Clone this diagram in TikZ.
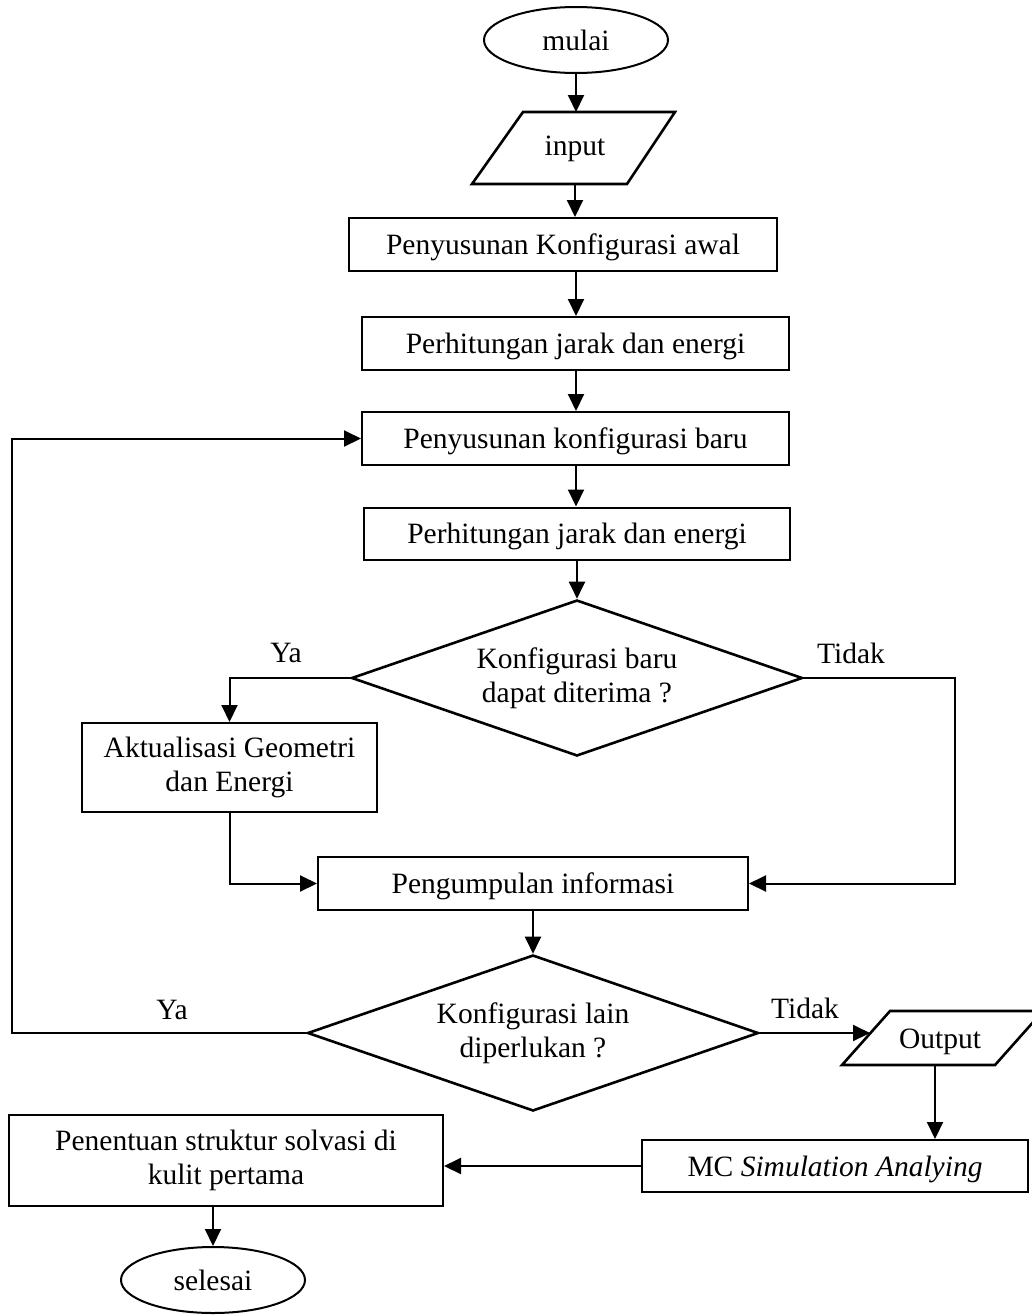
\documentclass[tikz,border=0pt]{standalone}
\usepackage{fontspec}
\setmainfont{Liberation Serif}
\usetikzlibrary{arrows.meta,shapes.geometric,calc}
\begin{document}
\begin{tikzpicture}[x=1pt,y=-1pt,
  every node/.style={font=\fontsize{29.5}{34}\selectfont},
  oneline/.style={text depth=0pt},
  box/.style={draw,line width=2pt,rectangle,inner sep=0pt},
  term/.style={draw,line width=2pt,ellipse,minimum width=184pt,minimum height=66pt,inner sep=0pt,oneline},
  decide/.style={draw,line width=2.6pt,diamond,aspect=2.9,minimum width=451pt,minimum height=156pt,inner sep=0pt,align=center},
  io/.style={line width=2.6pt,line join=miter},
  arr/.style={line width=2pt,-{Triangle[length=17pt,width=16pt]}},
  lbl/.style={inner sep=0pt,oneline}
]
\useasboundingbox[fill=white] (0,0) rectangle (1032,1315);

% start
\node[term] (mulai) at (576,40) {mulai};

% input parallelogram
\coordinate (inTL) at (523,112);
\coordinate (inTR) at (675,112);
\coordinate (inBR) at (627,184);
\coordinate (inBL) at (472,184);
\draw[io] (inTL) -- (inTR) -- (inBR) -- (inBL) -- cycle;
\node (input) at (575,149) {input};
\coordinate (inTop) at (576,112);
\coordinate (inBot) at (575,184);

% process steps
\node[box,oneline,minimum width=428pt,minimum height=53pt] (b1) at (563,244.5) {Penyusunan Konfigurasi awal};
\node[box,oneline,minimum width=427pt,minimum height=53pt] (b2) at (575.5,343.5) {Perhitungan jarak dan energi};
\node[box,oneline,minimum width=427pt,minimum height=53pt] (b3) at (575.5,438.5) {Penyusunan konfigurasi baru};
\node[box,oneline,minimum width=426pt,minimum height=52pt] (b4) at (577,533.5) {Perhitungan jarak dan energi};

\node[decide] (d1) at (577,678) {Konfigurasi baru\\dapat diterima ?};

\node[box,minimum width=295pt,minimum height=89pt,align=center] (akt) at (229.5,767.5) {Aktualisasi Geometri\\dan Energi};
\node[box,oneline,minimum width=430pt,minimum height=53pt] (peng) at (533,883.5) {Pengumpulan informasi};

\node[decide] (d2) at (533,1033) {Konfigurasi lain\\diperlukan ?};

% output parallelogram
\coordinate (oTL) at (890,1011);
\coordinate (oTR) at (1043,1011);
\coordinate (oBR) at (995,1065);
\coordinate (oBL) at (842,1065);
\draw[io] (oTL) -- (oTR) -- (oBR) -- (oBL) -- cycle;
\node (output) at (940,1042) {Output};
\coordinate (outIn) at (870,1033);
\coordinate (outBot) at (935,1065);

\node[box,oneline,minimum width=386pt,minimum height=52pt] (mc) at (835,1166) {MC \textit{Simulation Analying}};
\node[box,minimum width=434pt,minimum height=91pt,align=center] (pen) at (226,1160.5) {Penentuan struktur solvasi di\\kulit pertama};

\node[term] (sel) at (213,1280) {selesai};

% branch labels
\node[lbl] (ya1) at (286,653) {Ya};
\node[lbl] (td1) at (851,653) {Tidak};
\node[lbl] (ya2) at (172,1010) {Ya};
\node[lbl] (td2) at (805,1008) {Tidak};

% connectors
\coordinate (axis) at (576,0);
\draw[arr] (mulai.south) -- (inTop);
\draw[arr] (inBot) -- (inBot |- b1.north);
\draw[arr] (b1.south -| axis) -- (b2.north -| axis);
\draw[arr] (b2.south -| axis) -- (b3.north -| axis);
\draw[arr] (b3.south -| axis) -- (b4.north -| axis);
\draw[arr] (b4.south -| d1.north) -- (d1.north);
\draw[arr] (d1.west) -| (akt.north);
\coordinate (rt) at (955,678);
\draw[arr] (d1.east) -- (rt) |- (peng.east);
\draw[arr] (akt.south) |- (peng.west);
\draw[arr] (peng.south -| d2.north) -- (d2.north);
\coordinate (lf) at (12,1033);
\draw[arr] (d2.west) -- (lf) |- (b3.west);
\draw[arr] (d2.east) -- (outIn);
\draw[arr] (outBot) -- (outBot |- mc.north);
\draw[arr] (mc.west) -- (mc.west -| pen.east);
\draw[arr] (pen.south -| sel.north) -- (sel.north);
\end{tikzpicture}
\end{document}
